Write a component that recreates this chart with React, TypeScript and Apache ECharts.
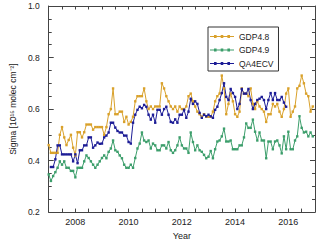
import React, { useEffect, useRef } from "react";
import * as echarts from "echarts";

const START_YEAR = 2007;
const seriesNames = ["GDP4.8", "GDP4.9", "QA4ECV"];
const seriesColors = ["#D9A12B", "#3C9E6B", "#1C1C96"];

// Monthly values, Jan 2007 onward
const gdp48 = [
  0.46, 0.43, 0.43, 0.43, 0.43, 0.5, 0.53, 0.49, 0.46, 0.48, 0.5, 0.45,
  0.42, 0.51, 0.51, 0.49, 0.51, 0.54, 0.54, 0.54, 0.52, 0.53, 0.53, 0.53,
  0.53, 0.5, 0.53, 0.58, 0.6, 0.68, 0.58, 0.58, 0.59, 0.59, 0.55, 0.57,
  0.54, 0.55, 0.57, 0.63, 0.65, 0.65, 0.65, 0.68, 0.63, 0.6, 0.61, 0.6,
  0.61, 0.61, 0.61, 0.7, 0.68, 0.65, 0.63, 0.61, 0.6, 0.61, 0.59, 0.61,
  0.6, 0.6, 0.61, 0.65, 0.66, 0.63, 0.61, 0.59, 0.58, 0.57, 0.58, 0.57,
  0.57, 0.57, 0.59, 0.63, 0.65, 0.66, 0.73, 0.68, 0.58, 0.62, 0.66, 0.63,
  0.58, 0.57, 0.59, 0.68, 0.66, 0.66, 0.65, 0.68, 0.62, 0.6, 0.63, 0.61,
  0.6, 0.59, 0.55, 0.58, 0.58, 0.62, 0.61, 0.62, 0.59, 0.57, 0.6, 0.66,
  0.68, 0.57, 0.59, 0.61, 0.68, 0.69, 0.73, 0.7, 0.66, 0.65, 0.59, 0.61,
];

const gdp49 = [
  0.346, 0.321, 0.34, 0.355, 0.372, 0.397, 0.384, 0.397, 0.372, 0.372, 0.36, 0.36,
  0.335, 0.372, 0.372, 0.372, 0.397, 0.42, 0.41, 0.397, 0.384, 0.372, 0.384, 0.397,
  0.41, 0.42, 0.409, 0.434, 0.447, 0.478, 0.44, 0.434, 0.42, 0.409, 0.384, 0.372,
  0.372, 0.384, 0.372, 0.41, 0.447, 0.466, 0.509, 0.478, 0.472, 0.478, 0.447, 0.466,
  0.459, 0.44, 0.44, 0.459, 0.459, 0.447, 0.472, 0.44, 0.43, 0.44, 0.459, 0.49,
  0.459, 0.447, 0.447, 0.43, 0.509, 0.472, 0.44, 0.459, 0.44, 0.434, 0.422, 0.409,
  0.415, 0.437, 0.409, 0.444, 0.474, 0.478, 0.494, 0.524, 0.474, 0.474, 0.478, 0.444,
  0.444, 0.444, 0.459, 0.459, 0.49, 0.544, 0.527, 0.527, 0.559, 0.512, 0.478, 0.509,
  0.478, 0.478, 0.409, 0.474, 0.474, 0.444, 0.474, 0.478, 0.459, 0.428, 0.494, 0.444,
  0.512, 0.444, 0.444, 0.478, 0.494, 0.572, 0.527, 0.509, 0.512, 0.494, 0.509, 0.494,
];

const qa4ecv = [
  null, 0.375, 0.375, 0.405, 0.459, 0.459, 0.424, 0.424, 0.424, 0.424, 0.424, 0.397,
  0.424, 0.39, 0.44, 0.44, 0.459, 0.459, 0.49, 0.49, 0.45, 0.459, 0.47, 0.465,
  0.466, 0.49, 0.497, 0.509, 0.547, 0.547, 0.528, 0.515, 0.509, 0.509, 0.497, 0.497,
  0.472, 0.466, 0.547, 0.578, 0.597, 0.609, 0.603, 0.616, 0.609, 0.578, 0.559, 0.578,
  0.547, 0.597, 0.597, 0.578, 0.6, 0.609, 0.578, 0.55, 0.547, 0.56, 0.547, 0.578,
  0.578, 0.597, 0.566, 0.59, 0.64, 0.62, 0.63, 0.62, 0.585, 0.566, 0.578, 0.572,
  0.578, 0.572, 0.566, 0.597, 0.609, 0.635, 0.662, 0.7, 0.647, 0.635, 0.678, 0.662,
  0.647, 0.6, 0.62, 0.678, 0.66, 0.66, 0.678, 0.635, 0.6, 0.62, 0.635, 0.64,
  0.647, 0.635, 0.6, 0.635, 0.662, 0.635, 0.662, 0.635, 0.635, 0.647, 0.625, 0.609,
];

const yTicks = [0.2, 0.4, 0.6, 0.8, 1.0];
const xLabelYears = [2008, 2010, 2012, 2014, 2016];

const FONT = "'Liberation Sans', Arial, sans-serif";
const TXT = "#222";
const AX = "#444";
const LEGEND_ICON =
  "path://M0,1h24v1h-24z M4,0h2.6v3h-2.6z M10.7,0h2.6v3h-2.6z M17.4,0h2.6v3h-2.6z";

function toPairs(vals: (number | null)[]) {
  return vals.map((v, i) => [START_YEAR + i / 12, v]);
}

export default function App() {
  const ref = useRef<HTMLDivElement>(null);
  useEffect(() => {
    if (!ref.current) return;
    const chart = echarts.init(ref.current, undefined, { renderer: "svg" });
    const allSeries = [gdp48, gdp49, qa4ecv];
    const baseX = {
      type: "value" as const,
      min: 2007,
      max: 2017,
      interval: 0.5,
      splitLine: { show: false },
      axisLine: { show: true, lineStyle: { color: AX, width: 1 } },
      axisTick: { show: true, inside: true, length: 3.5, lineStyle: { color: AX } },
    };
    const baseY = {
      type: "value" as const,
      min: yTicks[0],
      max: yTicks[yTicks.length - 1],
      interval: 0.2,
      splitLine: { show: false },
      axisLine: { show: true, lineStyle: { color: AX, width: 1 } },
      axisTick: { show: true, inside: true, length: 5, lineStyle: { color: AX } },
      minorTick: { show: true, splitNumber: 4, length: 3, lineStyle: { color: AX } },
      minorSplitLine: { show: false },
    };
    chart.setOption({
      animation: false,
      backgroundColor: "#fff",
      textStyle: { fontFamily: FONT },
      grid: { left: 36, right: 5, top: 6, bottom: 26, containLabel: false },
      legend: {
        orient: "vertical",
        left: 208,
        top: 27,
        data: seriesNames.map((n) => ({ name: n, icon: LEGEND_ICON })),
        itemWidth: 24,
        itemHeight: 8,
        itemGap: 4.5,
        padding: [5, 5, 3, 2],
        borderColor: "#333",
        borderWidth: 1,
        backgroundColor: "#fff",
        textStyle: { fontSize: 8.5, color: TXT, fontFamily: FONT },
      },
      xAxis: [
        {
          ...baseX,
          position: "bottom",
          name: "Year",
          nameLocation: "middle",
          nameGap: 14,
          nameTextStyle: { fontSize: 9, color: TXT, fontFamily: FONT },
          axisLabel: {
            fontSize: 9,
            color: TXT,
            margin: 5,
            fontFamily: FONT,
            formatter: (v: number) =>
              xLabelYears.some((y) => Math.abs(y - v) < 1e-6) ? String(Math.round(v)) : "",
          },
        },
        { ...baseX, position: "top", axisLabel: { show: false } },
      ],
      yAxis: [
        {
          ...baseY,
          position: "left",
          name: "Sigma [10¹⁵ molec cm⁻²]",
          nameLocation: "middle",
          nameGap: 24,
          nameTextStyle: { fontSize: 8.5, color: TXT, fontFamily: FONT },
          axisLabel: {
            fontSize: 8.5,
            color: TXT,
            margin: 9,
            fontFamily: FONT,
            formatter: (v: number) => v.toFixed(1),
          },
        },
        { ...baseY, position: "right", axisLabel: { show: false } },
      ],
      series: allSeries.map((vals, i) => ({
        name: seriesNames[i],
        type: "line",
        xAxisIndex: 0,
        yAxisIndex: 0,
        data: toPairs(vals),
        symbol: "rect",
        symbolSize: 2.4,
        showSymbol: true,
        connectNulls: false,
        color: seriesColors[i],
        lineStyle: { width: 1, color: seriesColors[i] },
        itemStyle: { color: seriesColors[i] },
      })),
    });
    return () => chart.dispose();
  }, []);
  return (
    <div
      ref={ref}
      style={{ position: "fixed", left: 0, top: 0, width: 320, height: 245, background: "#fff" }}
    />
  );
}
